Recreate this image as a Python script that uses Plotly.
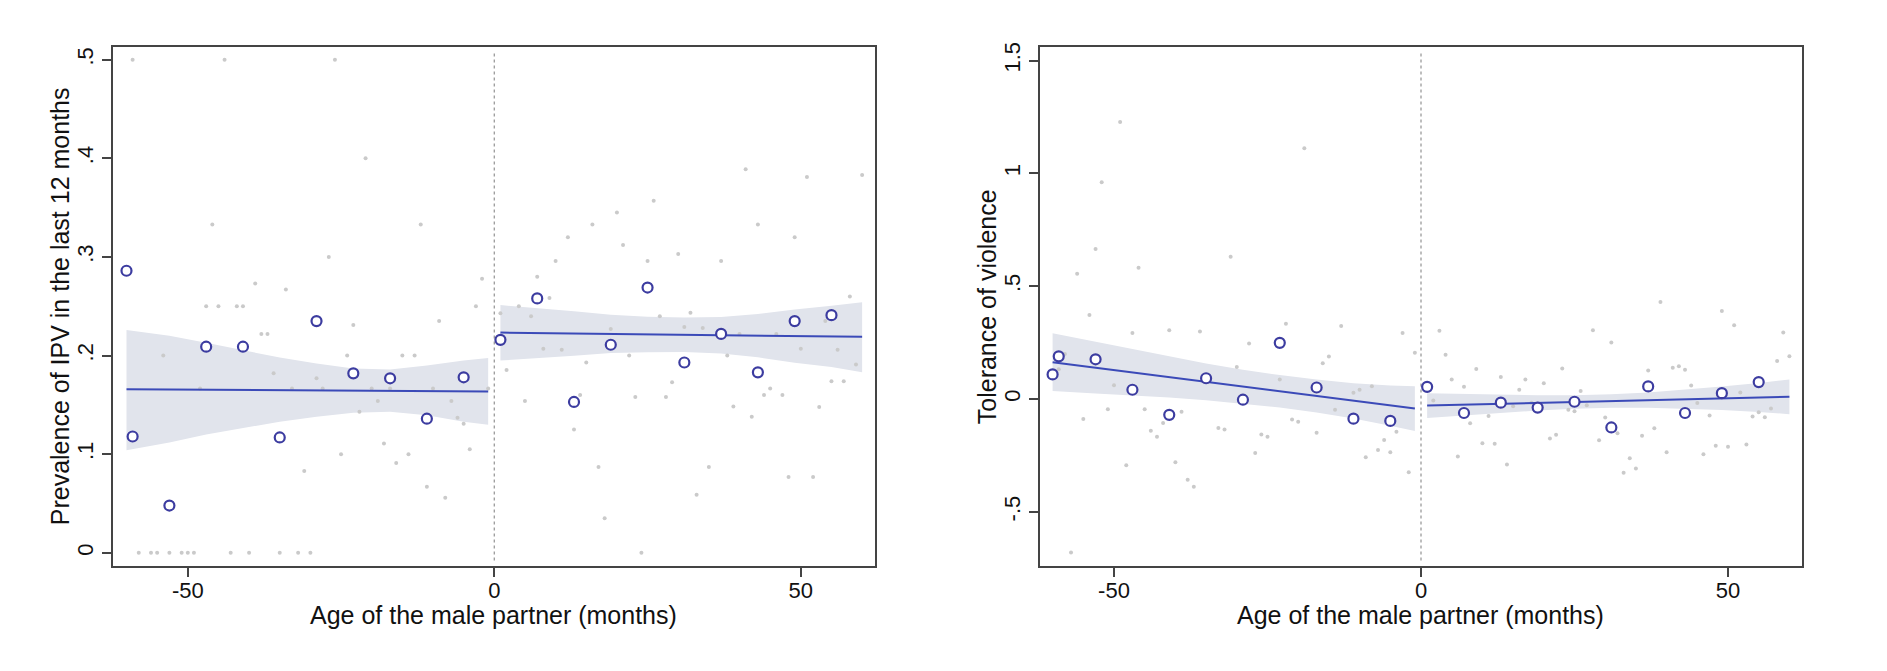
import plotly.graph_objects as go

# ---------------- data ----------------
CUTOFF = 0

# Left panel: prevalence of IPV
ipv_bin_x = [-60, -59, -53, -47, -41, -35, -29, -23, -17, -11, -5,
             1, 7, 13, 19, 25, 31, 37, 43, 49, 55]
ipv_bin_y = [0.286, 0.118, 0.048, 0.209, 0.209, 0.117, 0.235, 0.182, 0.177, 0.136, 0.178,
             0.216, 0.258, 0.153, 0.211, 0.269, 0.193, 0.222, 0.183, 0.235, 0.241]

ipv_raw_x = [-59, -44, -26, -21, -46, -12, -27, -39, -34, -47, -45, -42, -41, -23, -9, -38, -37,
             -2, -3, -54, -24, -15, -13, -36, -29, -48, -33, -28, -20, -17, -10, -1, -19, -7,
             -22, -6, -5, -18, -25, -14, -4, -16, -31, -11, -8,
             -58, -56, -55, -53, -51, -50, -49, -43, -40, -35, -32, -30,
             41, 51, 60, 26, 20, 16, 43, 12, 49, 21, 30, 10, 25, 37, 7, 9, 58, 4, 1, 6, 27, 32,
             54, 19, 31, 34, 40, 46, 8, 11, 50, 56, 22, 38, 59, 2, 15, 55, 57, 29, 45, 14, 44,
             47, 5, 23, 28, 39, 53, 42, 13, 17, 35, 48, 52, 33, 18, 24]
ipv_raw_y = [0.5, 0.5, 0.5, 0.4, 0.333, 0.333, 0.3, 0.273, 0.267, 0.25, 0.25, 0.25, 0.25, 0.231,
             0.235, 0.222, 0.222, 0.278, 0.25, 0.2, 0.2, 0.2, 0.2, 0.182, 0.177, 0.1667, 0.1667,
             0.1667, 0.1667, 0.1667, 0.1667, 0.1667, 0.154, 0.154, 0.143, 0.137, 0.131, 0.111,
             0.1, 0.1, 0.105, 0.091, 0.083, 0.067, 0.056,
             0, 0, 0, 0, 0, 0, 0, 0, 0, 0, 0, 0,
             0.389, 0.381, 0.383, 0.357, 0.345, 0.333, 0.333, 0.32, 0.32, 0.312, 0.303, 0.296,
             0.296, 0.296, 0.28, 0.2585, 0.26, 0.25, 0.243, 0.24, 0.24, 0.2435, 0.235, 0.227,
             0.229, 0.228, 0.222, 0.222, 0.207, 0.206, 0.207, 0.206, 0.2, 0.2, 0.191, 0.1855,
             0.193, 0.174, 0.174, 0.173, 0.1667, 0.16, 0.16, 0.16, 0.154, 0.158, 0.158, 0.1485,
             0.148, 0.138, 0.125, 0.087, 0.087, 0.077, 0.077, 0.059, 0.035, 0.0]

ipv_fit_left_x = [-60, -1]
ipv_fit_left_y = [0.166, 0.1637]
ipv_fit_right_x = [1, 60]
ipv_fit_right_y = [0.2233, 0.2190]

ipv_ci_left_x = [-60, -53, -47, -35, -29, -23, -17, -11, -5, -1]
ipv_ci_left_hi = [0.226, 0.220, 0.213, 0.198, 0.192, 0.187, 0.186, 0.190, 0.195, 0.1975]
ipv_ci_left_lo = [0.104, 0.112, 0.120, 0.133, 0.138, 0.142, 0.143, 0.1395, 0.133, 0.130]
ipv_ci_right_x = [1, 7, 13, 19, 25, 31, 37, 43, 49, 55, 60]
ipv_ci_right_hi = [0.2512, 0.2484, 0.2449, 0.2415, 0.2395, 0.2386, 0.2392, 0.2422, 0.2468, 0.2504, 0.2542]
ipv_ci_right_lo = [0.1949, 0.1974, 0.1999, 0.2025, 0.2035, 0.2036, 0.2022, 0.1982, 0.1928, 0.1884, 0.1831]

ipv_yticks = [0, 0.1, 0.2, 0.3, 0.4, 0.5]
ipv_yticktext = ["0", ".1", ".2", ".3", ".4", ".5"]

# Right panel: tolerance of violence
tol_bin_x = [-60, -59, -53, -47, -41, -35, -29, -23, -17, -11, -5,
             1, 7, 13, 19, 25, 31, 37, 43, 49, 55]
tol_bin_y = [0.109, 0.189, 0.176, 0.041, -0.070, 0.092, -0.003, 0.249, 0.051, -0.087, -0.097,
             0.054, -0.062, -0.016, -0.038, -0.012, -0.126, 0.056, -0.062, 0.026, 0.075]

tol_raw_x = [-49, -19, -52, -53, -31, -56, -46, -54, -47, -41, -36, -22, -13, -3, -28, -15, -16,
             -1, -30, -59, -58, -50, -23, -10, -11, -8, -51, -45, -55, -39, -42, -44, -43, -33,
             -32, -21, -20, -26, -25, -14, -17, -27, -48, -40, -38, -37, -4, -6, -7, -5, -9, -2,
             -57,
             39, 49, 51, 59, 28, 3, 31, 4, 58, 60, 9, 23, 37, 41, 42, 43, 5, 13, 17, 20, 7, 16,
             26, 44, 52, 2, 15, 18, 24, 25, 27, 11, 30, 45, 47, 54, 55, 56, 57, 8, 32, 36, 38,
             21, 22, 29, 10, 12, 53, 48, 50, 40, 46, 6, 34, 14, 33, 35]
tol_raw_y = [1.228, 1.111, 0.96, 0.665, 0.63, 0.555, 0.582, 0.372, 0.293, 0.305, 0.299, 0.334,
             0.324, 0.293, 0.246, 0.188, 0.158, 0.205, 0.142, 0.132, 0.199, 0.0615, 0.0865,
             0.041, 0.028, 0.057, -0.045, -0.045, -0.088, -0.056, -0.106, -0.141, -0.167,
             -0.128, -0.135, -0.091, -0.101, -0.157, -0.167, -0.047, -0.15, -0.239, -0.293,
             -0.28, -0.358, -0.389, -0.145, -0.182, -0.226, -0.236, -0.258, -0.324, -0.68,
             0.43, 0.39, 0.327, 0.295, 0.305, 0.302, 0.25, 0.196, 0.169, 0.189, 0.133, 0.135,
             0.126, 0.139, 0.145, 0.13, 0.087, 0.098, 0.087, 0.07, 0.054, 0.041, 0.035, 0.06,
             0.029, -0.006, -0.032, -0.016, -0.047, -0.054, -0.028, -0.075, -0.082, -0.018,
             -0.073, -0.078, -0.059, -0.081, -0.042, -0.107, -0.152, -0.163, -0.129, -0.175,
             -0.158, -0.183, -0.196, -0.198, -0.202, -0.207, -0.211, -0.236, -0.245, -0.255,
             -0.262, -0.29, -0.327, -0.308]

tol_fit_left_x = [-60, -1]
tol_fit_left_y = [0.163, -0.0425]
tol_fit_right_x = [1, 60]
tol_fit_right_y = [-0.029, 0.010]

tol_ci_left_x = [-60, -53, -47, -41, -35, -29, -23, -17, -11, -5, -1]
tol_ci_left_hi = [0.291, 0.253, 0.219, 0.187, 0.157, 0.130, 0.106, 0.086, 0.070, 0.060, 0.057]
tol_ci_left_lo = [0.035, 0.025, 0.017, 0.007, -0.005, -0.020, -0.038, -0.060, -0.086, -0.118, -0.142]
tol_ci_right_x = [1, 7, 13, 19, 25, 31, 37, 43, 49, 55, 60]
tol_ci_right_hi = [0.026, 0.022, 0.019, 0.017, 0.017, 0.021, 0.029, 0.041, 0.055, 0.071, 0.087]
tol_ci_right_lo = [-0.084, -0.072, -0.061, -0.051, -0.043, -0.039, -0.039, -0.043, -0.049, -0.057, -0.067]

tol_yticks = [-0.5, 0, 0.5, 1, 1.5]
tol_yticktext = ["-.5", "0", ".5", "1", "1.5"]

xticks = [-50, 0, 50]
xticktext = ["-50", "0", "50"]

x_title = "Age of the male partner (months)"
ipv_title = "Prevalence of IPV in the last 12 months"
tol_title = "Tolerance of violence"

# ---------------- style ----------------
BAND = "#e1e4ec"
LINE = "#3b4ab8"
BIN = "#3c3ca0"
RAW = "#cacaca"
AXIS = "#444444"
FONT = "Liberation Sans, Arial, Helvetica, sans-serif"

# page body has an 8px margin: figure is sized to fit the window
W, H = 1879, 663

fig = go.Figure()


def add_panel(xa, ya, bx, by, rx, ry, segs):
    for cx, hi, lo in segs[0]:
        fig.add_trace(go.Scatter(
            x=list(cx) + list(cx)[::-1], y=list(hi) + list(lo)[::-1],
            fill="toself", fillcolor=BAND, line=dict(width=0),
            mode="lines", hoverinfo="skip", showlegend=False, xaxis=xa, yaxis=ya))
    fig.add_trace(go.Scatter(
        x=rx, y=ry, mode="markers", marker=dict(size=4, color=RAW),
        showlegend=False, xaxis=xa, yaxis=ya))
    for fx, fy in segs[1]:
        fig.add_trace(go.Scatter(
            x=fx, y=fy, mode="lines", line=dict(color=LINE, width=2),
            showlegend=False, xaxis=xa, yaxis=ya))
    fig.add_trace(go.Scatter(
        x=bx, y=by, mode="markers",
        marker=dict(size=10, symbol="circle", color="white",
                    line=dict(color=BIN, width=2.2)),
        showlegend=False, xaxis=xa, yaxis=ya))


add_panel("x", "y", ipv_bin_x, ipv_bin_y, ipv_raw_x, ipv_raw_y,
          ([(ipv_ci_left_x, ipv_ci_left_hi, ipv_ci_left_lo),
            (ipv_ci_right_x, ipv_ci_right_hi, ipv_ci_right_lo)],
           [(ipv_fit_left_x, ipv_fit_left_y), (ipv_fit_right_x, ipv_fit_right_y)]))
add_panel("x2", "y2", tol_bin_x, tol_bin_y, tol_raw_x, tol_raw_y,
          ([(tol_ci_left_x, tol_ci_left_hi, tol_ci_left_lo),
            (tol_ci_right_x, tol_ci_right_hi, tol_ci_right_lo)],
           [(tol_fit_left_x, tol_fit_left_y), (tol_fit_right_x, tol_fit_right_y)]))

for xr, yr in (("x", "y"), ("x2", "y2")):
    fig.add_shape(type="line", xref=xr, yref=yr + " domain", x0=CUTOFF, x1=CUTOFF,
                  y0=0.01, y1=0.99, line=dict(color="#9a9a9a", width=1.3, dash="dot"),
                  layer="below")

axis_common = dict(
    showline=True, linecolor=AXIS, linewidth=2, mirror=True,
    ticks="outside", ticklen=9, tickwidth=1.5, tickcolor=AXIS,
    showgrid=False, zeroline=False,
    tickfont=dict(family=FONT, size=22, color="#111"),
)
title_font = dict(family=FONT, size=25, color="#111")

YDOM = [0.15988, 0.94872]
XDOM1 = [0.05588, 0.46141]
XDOM2 = [0.54923, 0.95476]

fig.update_layout(
    width=W, height=H,
    margin=dict(l=0, r=0, t=0, b=0),
    paper_bgcolor="white", plot_bgcolor="white",
    showlegend=False,
    xaxis=dict(domain=XDOM1, range=[-62.2, 62.1],
               tickvals=xticks, ticktext=xticktext, anchor="y",
               ticklabelstandoff=-5, **axis_common),
    yaxis=dict(domain=YDOM, range=[-0.0131, 0.5131],
               tickvals=ipv_yticks, ticktext=ipv_yticktext, tickangle=-90, anchor="x",
               **axis_common),
    xaxis2=dict(domain=XDOM2, range=[-62.05, 62.05],
                tickvals=xticks, ticktext=xticktext, anchor="y2",
                ticklabelstandoff=-5, **axis_common),
    yaxis2=dict(domain=YDOM, range=[-0.739, 1.561],
                tickvals=tol_yticks, ticktext=tol_yticktext, tickangle=-90, anchor="x2",
                **axis_common),
)

ymid = (YDOM[0] + YDOM[1]) / 2
XT_Y = 0.0845
for dom in (XDOM1, XDOM2):
    fig.add_annotation(text=x_title, xref="paper", yref="paper",
                       x=(dom[0] + dom[1]) / 2, y=XT_Y, xanchor="center", yanchor="middle",
                       showarrow=False, font=title_font)
fig.add_annotation(text=ipv_title, xref="paper", yref="paper", x=0.02767, y=ymid,
                   xanchor="center", yanchor="middle", textangle=-90,
                   showarrow=False, font=title_font)
fig.add_annotation(text=tol_title, xref="paper", yref="paper", x=0.5210, y=ymid,
                   xanchor="center", yanchor="middle", textangle=-90,
                   showarrow=False, font=title_font)

fig.write_html("out.html")
